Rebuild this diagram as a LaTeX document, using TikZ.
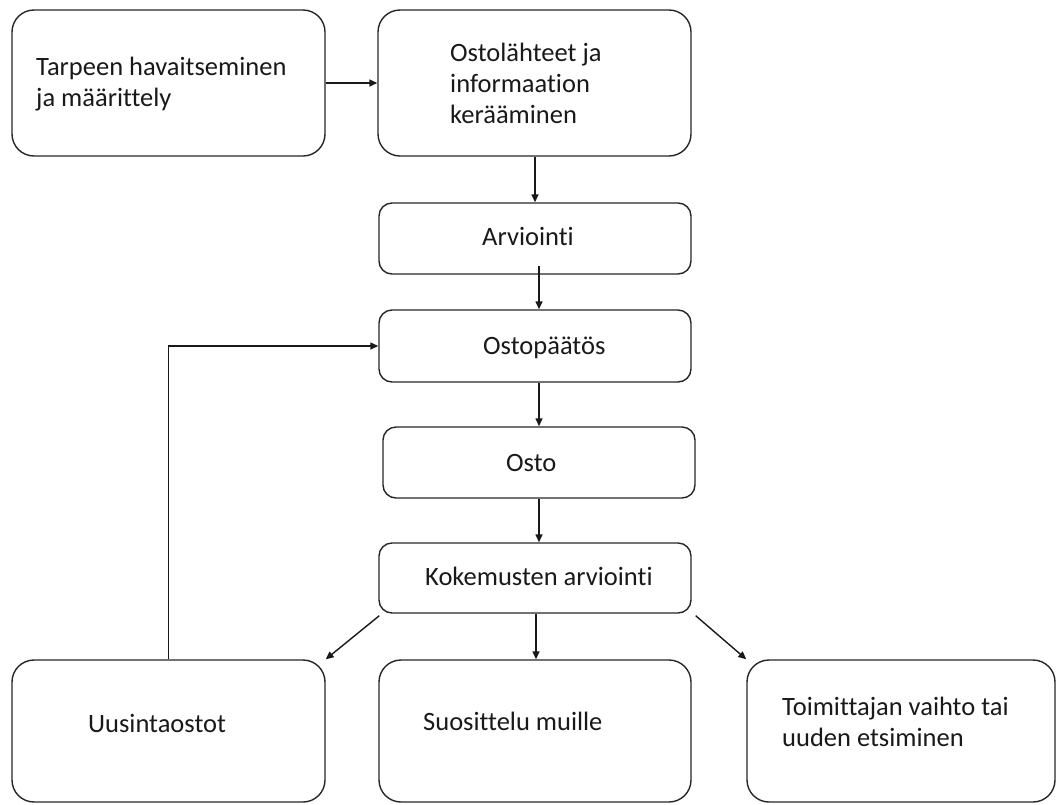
\documentclass[tikz,border=0pt]{standalone}
\usepackage{fontspec}
\setmainfont{Carlito}[Ligatures=NoCommon]
\usetikzlibrary{arrows.meta}
\begin{document}
\begin{tikzpicture}[x=1pt,y=-1pt,
  box/.style={draw=black!85, line width=1.4pt, rounded corners=22pt, inner sep=0pt},
  sbox/.style={box, rounded corners=13pt},
  lbl/.style={anchor=base west, inner sep=0pt, text=black!90, font=\fontsize{26.5}{31}\selectfont, align=left},
  arr/.style={draw=black!90, -{Triangle[length=8pt,width=7pt]}, line width=1.4pt}]
\useasboundingbox (0,0) rectangle (1057,804);
% boxes
\node[box, minimum width=313pt, minimum height=146pt] (b1) at (168.5,83) {};
\node[box, minimum width=313pt, minimum height=146pt] (b2) at (534.5,83) {};
\node[sbox, minimum width=312pt, minimum height=71pt] (b3) at (535,238.5) {};
\node[sbox, minimum width=312pt, minimum height=72pt] (b4) at (535,346) {};
\node[sbox, minimum width=312pt, minimum height=71pt] (b5) at (539,462.5) {};
\node[sbox, minimum width=312pt, minimum height=70pt] (b6) at (535,578) {};
\node[box, minimum width=313pt, minimum height=142pt] (b7) at (168.5,731) {};
\node[box, minimum width=312pt, minimum height=142pt] (b8) at (535,731) {};
\node[box, minimum width=308pt, minimum height=142pt] (b9) at (901,731) {};
% texts (base = baseline of last line)
\node[lbl] (t1) at (36,106) {Tarpeen havaitseminen\\ja määrittely};
\node[lbl] (t2) at (450,123) {Ostolähteet ja\\informaation\\kerääminen};
\node[lbl] (t3) at (482,245) {Arviointi};
\node[lbl] (t4) at (483,354) {Ostopäätös};
\node[lbl] (t5) at (506,471) {Osto};
\node[lbl] (t6) at (425,585) {Kokemusten arviointi};
\node[lbl] (t7) at (88,732) {Uusintaostot};
\node[lbl] (t8) at (423,730) {Suosittelu muille};
\node[lbl] (t9) at (782,746) {Toimittajan vaihto tai\\uuden etsiminen};
% connectors
\draw[arr] (b1.east) -- (b2.west);
\draw[arr] ([xshift=0.5pt]b2.south) -- (b3.north);
\draw[arr] ([xshift=4pt,yshift=9pt]b3.south) -- ([xshift=4pt]b4.north);
\draw[arr] ([xshift=4pt]b4.south) -- (b5.north);
\draw[arr] (b5.south) -- ([xshift=4pt]b6.north);
\draw[arr] ([xshift=1pt]b6.south) -- ([xshift=1pt]b8.north);
\draw[arr] ([xshift=1pt,yshift=-2pt]b6.south west) -- (b7.north east);
\draw[arr] ([xshift=4pt,yshift=-2pt]b6.south east) -- (b9.north west);
\draw[arr] (b7.north) |- (b4.west);
\end{tikzpicture}
\end{document}
